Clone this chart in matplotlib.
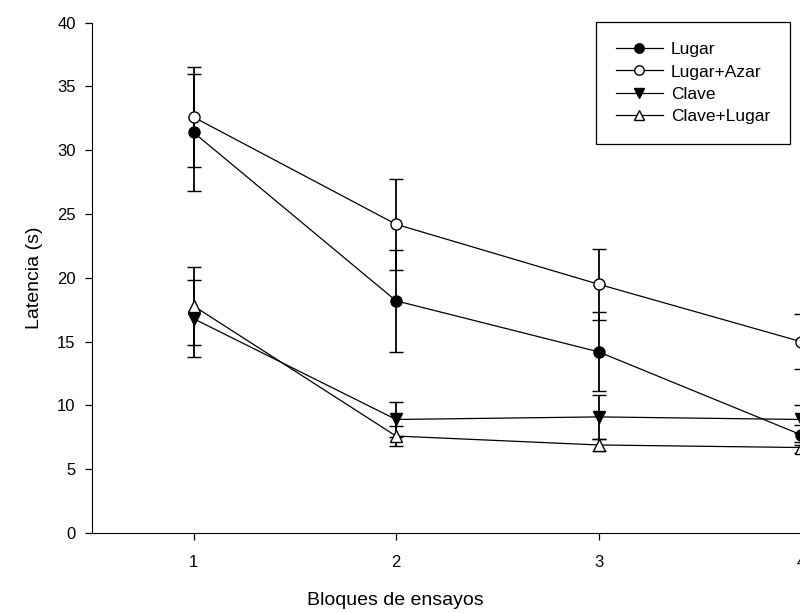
import numpy as np
import matplotlib
matplotlib.use("Agg")
from matplotlib import pyplot as plt

plt.rcParams['font.family'] = ['Liberation Sans', 'DejaVu Sans']

# bloques de ensayos
bloques = [1, 2, 3, 4]

# latencia media (s) y error por grupo
lugar = [31.4, 18.2, 14.2, 7.7]
lugar_err = [4.6, 4.0, 3.1, 0.8]
lugar_azar = [32.6, 24.2, 19.5, 15.0]
lugar_azar_err = [3.9, 3.55, 2.8, 2.15]
clave = [16.8, 8.9, 9.1, 8.9]
clave_err = [3.0, 1.4, 1.7, 1.1]
clave_lugar = [17.8, 7.6, 6.9, 6.7]
clave_lugar_err = [3.05, 0.8, 0.5, 0.4]

labels = ["Lugar", "Lugar+Azar", "Clave", "Clave+Lugar"]

fig = plt.figure(figsize=(8.0, 6.13), dpi=100)
# axes runs past the right edge like the original (cropped) figure
ax = fig.add_axes([92.3 / 800, 80 / 613, 810 / 800, 510.3 / 613])

series = [
    (lugar, lugar_err, "o", "black"),
    (lugar_azar, lugar_azar_err, "o", "white"),
    (clave, clave_err, "v", "black"),
    (clave_lugar, clave_lugar_err, "^", "white"),
]
handles = []
for (y, e, m, fc), lab in zip(series, labels):
    ax.errorbar(bloques, y, yerr=e, fmt="none", ecolor="black",
                elinewidth=1.3, capsize=5, capthick=1.0, zorder=2)
    h, = ax.plot(bloques, y, color="black", lw=0.9, marker=m, ms=8,
                 mfc=fc, mec="black", mew=1.0, label=lab, zorder=3)
    handles.append(h)

ax.set_xlim(0.5, 4.5)
ax.set_ylim(0, 40)
ax.set_xticks(bloques)
ax.set_yticks(np.arange(0, 41, 5))
ax.spines['top'].set_visible(False)
ax.spines['right'].set_visible(False)
ax.tick_params(direction="out", length=5, width=0.9, labelsize=12, pad=7)
ax.tick_params(axis="x", pad=11)

ax.set_xlabel("Bloques de ensayos", fontsize=14)
ax.set_ylabel("Latencia (s)", fontsize=14, labelpad=10)
ax.xaxis.set_label_coords((395 - 92.3) / 810, -0.115)

leg = ax.legend(handles=handles, loc="upper left",
                bbox_to_anchor=(596 / 800, 1 - 22 / 613),
                bbox_transform=fig.transFigure, borderaxespad=0,
                fontsize=12.5, handlelength=2.7, handletextpad=0.45,
                labelspacing=0.42, borderpad=1.15, fancybox=False,
                framealpha=1, edgecolor="black", markerscale=0.85)
leg.get_frame().set_linewidth(0.9)

fig.savefig("out.png", dpi=100)
